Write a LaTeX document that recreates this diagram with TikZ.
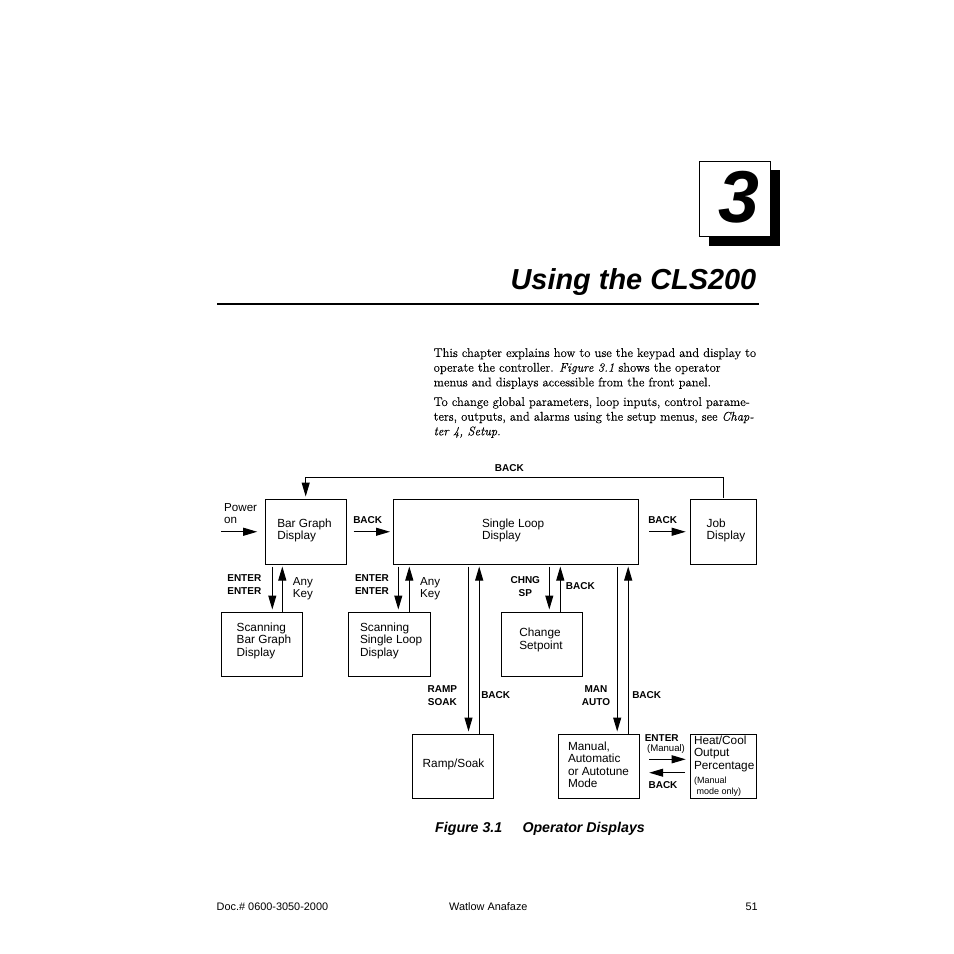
\documentclass[tikz,border=0pt]{standalone}
\usepackage{fontspec}
\usetikzlibrary{arrows.meta}
\setmainfont{Latin Modern Roman}[FakeBold=0.25,ItalicFeatures={FakeBold=0.25}]
\newfontfamily\hv{Liberation Sans}
\newcommand\bt[3]{\makebox[0pt][l]{\hspace*{#1}\raisebox{#2}[0pt][0pt]{\begin{tabular}[c]{@{}l@{}}#3\end{tabular}}}}
\tikzset{
 x=1pt,y=-1pt,
 box/.style={draw=black,line width=1pt,fill=white,inner sep=0pt,outer sep=0pt,font=\hv\fontsize{11.8}{12.1}\selectfont},
 lbl/.style={inner sep=0pt,align=center,font=\hv\bfseries\fontsize{10}{12.7}\selectfont},
 plain/.style={inner sep=0pt,align=left,font=\hv\fontsize{11.6}{12}\selectfont},
 conn/.style={line width=1pt,-{Triangle[length=14pt,width=8pt]}},
 stem/.style={line width=1pt},
 down/.style={conn,shorten <=2.7pt,shorten >=3pt},
 up/.style={conn,shorten <=0.5pt,shorten >=2.5pt},
 body/.style={inner sep=0pt,align=left,anchor=north west,font=\fontsize{12.6}{14.7}\selectfont},
 foot/.style={inner sep=0pt,font=\hv\fontsize{10.9}{12}\selectfont},
}
\begin{document}
\begin{tikzpicture}
\useasboundingbox (0,0) rectangle (954,954);
\fill[white] (0,0) rectangle (954,954);
% chapter tab
\fill[black] (709,170) rectangle (780,246);
\node[box,minimum width=71pt,minimum height=75pt] (chap) at (735,199)
  {\makebox[0pt][l]{\hspace*{-16.6pt}\raisebox{-23pt}[0pt][0pt]{\hv\bfseries\itshape\fontsize{73.5}{74}\selectfont 3}}};
\node[inner sep=0pt,anchor=east,font=\hv\bfseries\itshape\fontsize{28.9}{30}\selectfont] (title) at (756.5,282) {Using the CLS200};
\fill[black] (217,303) rectangle (759,305);
% body
\node[body] (p1) at (433.5,348) {This chapter explains how to use the keypad and display to\\
operate the controller. \textit{Figure 3.1} shows the operator\\
menus and displays accessible from the front panel.};
\node[body] (p2) at (433.5,397) {To change global parameters, loop inputs, control parame-\\
ters, outputs, and alarms using the setup menus, see \textit{Chap-}\\
\textit{ter 4, Setup}.};
% boxes
\node[box,minimum width=81pt,minimum height=64.5pt] (bar) at (306,531.75) {\bt{-28.7pt}{-2.6pt}{Bar Graph\\Display}};
\node[box,minimum width=245pt,minimum height=64.5pt] (single) at (516,531.75) {\bt{-34pt}{-2.6pt}{Single Loop\\Display}};
\node[box,minimum width=66pt,minimum height=64.5pt] (job) at (723.5,531.75) {\bt{-16.8pt}{-2.6pt}{Job\\Display}};
\node[box,minimum width=81pt,minimum height=64pt] (sb) at (262,644.5) {\bt{-25.3pt}{0pt}{Scanning\\Bar Graph\\Display}};
\node[box,minimum width=82pt,minimum height=64pt] (ss) at (389.5,644.5) {\bt{-29.5pt}{0pt}{Scanning\\Single Loop\\Display}};
\node[box,minimum width=81pt,minimum height=64pt] (cs) at (542,644.5) {\bt{-22.7pt}{1pt}{Change\\Setpoint}};
\node[box,minimum width=81pt,minimum height=64pt] (rs) at (453,766.5) {\bt{-30.3pt}{-2pt}{Ramp/Soak}};
\node[box,minimum width=81pt,minimum height=64pt] (mm) at (599,766.5) {\bt{-31pt}{-3pt}{Manual,\\Automatic\\or Autotune\\Mode}};
\node[box,minimum width=66pt,minimum height=64pt] (hc) at (723.5,766.5) {\bt{-29.5pt}{9pt}{Heat/Cool\\Output\\Percentage}};
\node[inner sep=0pt,anchor=west,align=left,font=\hv\fontsize{9}{10.3}\selectfont] (hcnote) at (694,786.8) {(Manual\\[0pt]\hspace*{2.3pt}mode only)};
% column coordinates
\coordinate (c1d) at (272.3,0); \coordinate (c1u) at (282.3,0);
\coordinate (c2d) at (398.3,0); \coordinate (c2u) at (409.3,0);
\coordinate (c3d) at (468.5,0); \coordinate (c3u) at (479.2,0);
\coordinate (c4d) at (549.3,0); \coordinate (c4u) at (560.3,0);
\coordinate (c5d) at (617.2,0); \coordinate (c5u) at (628.2,0);
\coordinate (c6) at (305.7,0); \coordinate (c7) at (723.3,477.3);
\coordinate (pw) at (221,531.75);
\coordinate (enterrow) at (0,759.3); \coordinate (backrow) at (0,772.7);
% connectors
\draw[conn,shorten >=8.3pt] (pw) -- (bar.west);
\draw[conn,shorten <=7pt,shorten >=3.5pt] (bar.east) -- (single.west);
\draw[conn,shorten <=10.5pt,shorten >=4.8pt] (single.east) -- (job.west);
\draw[conn,shorten <=1.5pt,shorten >=3pt] (c7 |- job.north) -- (c7) -- (c6 |- c7) -- (c6 |- bar.north);
\draw[down] (c1d |- bar.south) -- (c1d |- sb.north);
\draw[up] (c1u |- sb.north) -- (c1u |- bar.south);
\draw[down] (c2d |- single.south) -- (c2d |- ss.north);
\draw[up] (c2u |- ss.north) -- (c2u |- single.south);
\draw[down] (c4d |- single.south) -- (c4d |- cs.north);
\draw[up] (c4u |- cs.north) -- (c4u |- single.south);
\draw[down] (c3d |- single.south) -- (c3d |- rs.north);
\draw[up] (c3u |- rs.north) -- (c3u |- single.south);
\draw[down] (c5d |- single.south) -- (c5d |- mm.north);
\draw[up] (c5u |- mm.north) -- (c5u |- single.south);
\draw[conn,shorten <=9.5pt,shorten >=4.8pt] (mm.east |- enterrow) -- (hc.west |- enterrow);
\draw[conn,shorten <=5.5pt,shorten >=9.7pt] (hc.west |- backrow) -- (mm.east |- backrow);
% labels
\node[plain,anchor=west] (lpower) at (224,514) {Power\\on};
\node[lbl] (l1) at (509.3,468) {BACK};
\node[lbl] (l2) at (367.7,520) {BACK};
\node[lbl] (l3) at (662.7,520) {BACK};
\node[lbl] (l4) at (244.3,584.5) {ENTER\\ENTER};
\node[lbl] (l5) at (372,584.5) {ENTER\\ENTER};
\node[plain,anchor=west] (l6) at (292.7,589.2) {Any\\Key};
\node[plain,anchor=west] (l7) at (420,589.2) {Any\\Key};
\node[lbl] (l8) at (525.3,586.3) {CHNG\\SP};
\node[lbl] (l9) at (580.3,586) {BACK};
\node[lbl] (l10) at (442.3,695.5) {RAMP\\SOAK};
\node[lbl] (l11) at (495.7,694.7) {BACK};
\node[lbl] (l12) at (596,695.5) {MAN\\AUTO};
\node[lbl] (l13) at (646.7,694.7) {BACK};
\node[lbl] (l14) at (661.7,738) {ENTER};
\node[inner sep=0pt,font=\hv\fontsize{9.6}{11}\selectfont] (l15) at (666,749.3) {(Manual)};
\node[lbl] (l16) at (663,784.7) {BACK};
% caption and footer
\node[inner sep=0pt,anchor=west,font=\hv\bfseries\itshape\fontsize{14.2}{15}\selectfont] (cap1) at (435,828.5) {Figure 3.1};
\node[inner sep=0pt,anchor=west,font=\hv\bfseries\itshape\fontsize{14.2}{15}\selectfont] (cap2) at (522.3,828.5) {Operator Displays};
\node[foot,anchor=west] (f1) at (216.5,907) {Doc.\# 0600-3050-2000};
\node[foot,anchor=west] (f2) at (449,907) {Watlow Anafaze};
\node[foot,anchor=east] (f3) at (758,907) {51};
\end{tikzpicture}
\end{document}
